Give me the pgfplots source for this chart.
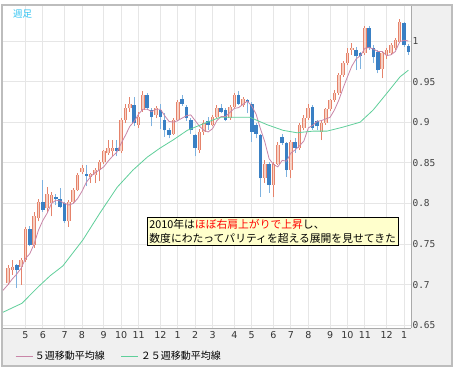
\documentclass[border=0pt]{standalone}
\usepackage{pgfplots}
\pgfplotsset{compat=1.18}
\usepackage{pgfplotstable}
\usepackage{fontspec}
\setmainfont{DejaVu Sans}
\newfontfamily\jp{Noto Sans CJK JP}
\newfontfamily\mono{DejaVu Sans Mono}
\definecolor{upline}{HTML}{E5836B}
\definecolor{upfill}{HTML}{F7D0C3}
\definecolor{dnbody}{HTML}{3A80C4}
\definecolor{dnwick}{HTML}{7EB2DF}
\definecolor{maA}{HTML}{C986A8}
\definecolor{maB}{HTML}{5FCF9A}
\definecolor{panel}{HTML}{F0F0F0}
\definecolor{framec}{HTML}{BDBDBD}
\definecolor{gridc}{HTML}{E6E6E6}
\definecolor{titlec}{HTML}{33C4F2}
\definecolor{notefill}{HTML}{FFFFCC}

\pgfplotstableread{
k o h l c
0 0.702 0.724 0.700 0.720
1 0.718 0.730 0.712 0.722
3 0.722 0.733 0.700 0.730
4 0.730 0.771 0.728 0.769
6 0.749 0.790 0.745 0.784
7 0.782 0.806 0.778 0.802
9 0.794 0.820 0.790 0.812
10 0.800 0.814 0.784 0.810
14 0.778 0.804 0.771 0.802
15 0.802 0.819 0.800 0.817
16 0.817 0.838 0.815 0.835
17 0.839 0.847 0.836 0.843
19 0.832 0.838 0.825 0.836
20 0.835 0.843 0.825 0.841
21 0.841 0.853 0.827 0.851
22 0.851 0.866 0.849 0.864
23 0.862 0.878 0.860 0.868
24 0.864 0.878 0.858 0.868
26 0.864 0.905 0.862 0.903
27 0.903 0.923 0.899 0.917
28 0.917 0.931 0.913 0.923
30 0.897 0.912 0.893 0.907
31 0.915 0.938 0.913 0.934
34 0.909 0.920 0.905 0.917
38 0.886 0.905 0.884 0.903
39 0.903 0.927 0.901 0.925
44 0.866 0.892 0.862 0.888
45 0.888 0.903 0.884 0.899
47 0.897 0.909 0.895 0.907
48 0.907 0.921 0.905 0.917
51 0.905 0.921 0.903 0.919
52 0.919 0.936 0.917 0.934
54 0.921 0.931 0.919 0.929
59 0.831 0.853 0.825 0.849
61 0.823 0.851 0.808 0.849
62 0.849 0.876 0.847 0.872
65 0.841 0.878 0.831 0.876
67 0.868 0.899 0.866 0.897
68 0.893 0.909 0.890 0.905
69 0.905 0.923 0.903 0.917
72 0.888 0.901 0.878 0.899
73 0.899 0.918 0.897 0.916
74 0.916 0.929 0.914 0.927
75 0.927 0.940 0.925 0.936
76 0.936 0.960 0.934 0.958
77 0.958 0.975 0.956 0.973
78 0.973 0.991 0.970 0.985
79 0.989 0.997 0.983 0.991
82 0.985 1.018 0.983 1.016
86 0.966 0.987 0.954 0.985
87 0.983 0.991 0.978 0.989
88 0.985 0.997 0.983 0.995
89 0.991 1.004 0.989 1.001
90 0.999 1.027 0.997 1.024
}\upcandles

\pgfplotstableread{
k o h l c
2 0.724 0.726 0.696 0.718
5 0.769 0.772 0.747 0.749
8 0.802 0.829 0.790 0.792
11 0.808 0.812 0.798 0.805
12 0.806 0.819 0.794 0.796
13 0.800 0.802 0.776 0.778
18 0.836 0.847 0.821 0.834
25 0.868 0.878 0.858 0.865
29 0.921 0.931 0.895 0.899
32 0.934 0.936 0.915 0.917
33 0.915 0.918 0.895 0.907
35 0.915 0.923 0.892 0.907
36 0.903 0.911 0.882 0.890
37 0.890 0.893 0.880 0.884
40 0.929 0.934 0.920 0.923
41 0.919 0.921 0.902 0.905
42 0.903 0.905 0.886 0.890
43 0.884 0.886 0.858 0.868
46 0.901 0.907 0.891 0.897
49 0.917 0.923 0.911 0.913
50 0.915 0.917 0.901 0.903
53 0.934 0.938 0.921 0.923
55 0.927 0.929 0.911 0.925
56 0.923 0.925 0.876 0.888
57 0.896 0.899 0.880 0.886
58 0.884 0.886 0.808 0.831
60 0.849 0.851 0.813 0.823
63 0.882 0.886 0.872 0.874
64 0.874 0.876 0.833 0.841
66 0.876 0.880 0.862 0.868
70 0.919 0.921 0.891 0.893
71 0.901 0.903 0.890 0.895
80 0.989 0.993 0.964 0.981
81 0.985 0.987 0.966 0.982
83 1.016 1.018 0.989 0.991
84 0.991 0.995 0.973 0.980
85 0.987 0.989 0.960 0.964
91 1.022 1.024 0.993 0.995
92 0.994 0.996 0.983 0.987
}\dncandles

\pgfplotsset{
  candle/.style n args={2}{forget plot, draw=none, no markers,
    error bars/.cd, y dir=plus, y explicit, error mark=none,
    error bar style={draw=#1, line width=#2, solid}},
}

\begin{document}
\begin{tikzpicture}[x=1pt,y=1pt]
\useasboundingbox (0,0) rectangle (454,371);
\fill[white] (0,0) rectangle (454,371);
\fill[panel] (2,5) rectangle (452,366);
\draw[framec, line width=1.3pt] (2,5) rectangle (452,366);
\begin{axis}[
  at={(3pt,43pt)}, anchor=south west, scale only axis,
  width=408pt, height=322pt,
  xmin=-1.15, xmax=92.6, ymin=0.6466, ymax=1.0431,
  axis background/.style={fill=white},
  axis line style={draw=none},
  major tick length=0pt,
  xtick={4,8,13,17,22,26,30,35,39,43,47,52,56,61,65,69,74,78,82,87,91},
  xticklabels={5,6,7,8,9,10,11,12,1,2,3,4,5,6,7,8,9,10,11,12,1},
  ytick={0.65,0.7,0.75,0.8,0.85,0.9,0.95,1},
  yticklabels={0.65,0.7,0.75,0.8,0.85,0.9,0.95,1},
  yticklabel pos=right,
  grid=major, major grid style={draw=gridc, line width=0.8pt},
  xticklabel style={font=\fontsize{9.5}{10}\selectfont, text=black!80},
  yticklabel style={font=\mono\fontsize{9.5}{10}\selectfont, text=black!75, xshift=-2pt},
  legend style={at={(axis description cs:0.022,-0.087)}, anchor=west,
    draw=none, fill=none, font=\jp\fontsize{10}{12}\selectfont,
    legend columns=2, /tikz/every even column/.append style={column sep=14pt}},
  legend image code/.code={\draw[#1, line width=0.8pt] (0pt,0pt) -- (17pt,0pt);},
]
% wicks
\addplot[candle={upline}{0.9pt}]
  table[x=k, y=l, y error plus expr=\thisrow{h}-\thisrow{l}] {\upcandles};
\addplot[candle={dnwick}{0.9pt}]
  table[x=k, y=l, y error plus expr=\thisrow{h}-\thisrow{l}] {\dncandles};
% bodies
\addplot[candle={upline}{3.6pt}]
  table[x=k, y=o, y error plus expr=\thisrow{c}-\thisrow{o}] {\upcandles};
\addplot[candle={upfill}{1.6pt}]
  table[x=k, y=o, y error plus expr=\thisrow{c}-\thisrow{o}] {\upcandles};
\addplot[candle={dnbody}{3.6pt}]
  table[x=k, y=c, y error plus expr=\thisrow{o}-\thisrow{c}] {\dncandles};
% moving averages
\addplot[maA, line width=0.8pt, mark=none] coordinates {
(-1.15,0.693) (0,0.700) (1,0.707) (2,0.713) (3,0.720) (4,0.732) (5,0.738) (6,0.750)
(7,0.767) (8,0.779) (9,0.788) (10,0.800) (11,0.804) (12,0.803) (13,0.800) (14,0.798)
(15,0.800) (16,0.806) (17,0.815) (18,0.826) (19,0.833) (20,0.838) (21,0.841) (22,0.845)
(23,0.852) (24,0.858) (25,0.863) (26,0.874) (27,0.884) (28,0.895) (29,0.901) (30,0.910)
(31,0.916) (32,0.916) (33,0.913) (34,0.916) (35,0.916) (36,0.908) (37,0.901) (38,0.900)
(39,0.902) (40,0.905) (41,0.908) (42,0.909) (43,0.902) (44,0.895) (45,0.890) (46,0.888)
(47,0.892) (48,0.902) (49,0.907) (50,0.907) (51,0.912) (52,0.917) (53,0.918) (54,0.922)
(55,0.926) (56,0.920) (57,0.910) (58,0.892) (59,0.876) (60,0.855) (61,0.848) (62,0.845)
(63,0.853) (64,0.852) (65,0.862) (66,0.866) (67,0.871) (68,0.877) (69,0.893) (70,0.896)
(71,0.901) (72,0.902) (73,0.904) (74,0.906) (75,0.915) (76,0.927) (77,0.942) (78,0.956)
(79,0.969) (80,0.978) (81,0.982) (82,0.991) (83,0.992) (84,0.990) (85,0.987) (86,0.987)
(87,0.982) (88,0.983) (89,0.987) (90,0.999) (91,1.001) (92,1.000)
};
\addlegendentry{５週移動平均線}
\addplot[maB, line width=0.8pt, mark=none] coordinates {
(-1.15,0.666) (3.2,0.677) (6.9,0.697) (9.7,0.711) (12.6,0.723) (17.2,0.755) (21.1,0.788)
(25.1,0.820) (28.7,0.841) (32.0,0.857) (34.9,0.868) (37.9,0.878) (41.2,0.890) (45.3,0.899)
(48.7,0.906) (51.7,0.906) (55.6,0.906) (59.5,0.897) (63.2,0.890) (66.4,0.887) (70.1,0.889)
(73.3,0.889) (77.0,0.894) (80.9,0.900) (83.9,0.915) (87.1,0.936) (90.1,0.956) (92.0,0.964)
};
\addlegendentry{２５週移動平均線}
\end{axis}
\draw[framec!90!black, line width=0.8pt] (411,43) -- (411,365);
\draw[framec!90!black, line width=0.8pt] (3,43) -- (411,43);
\node[anchor=west, text=titlec, font=\jp\fontsize{9.5}{10}\selectfont, inner sep=0pt] at (13,357) {週足};
\node[draw=black, fill=notefill, line width=0.8pt, inner sep=2pt, anchor=north west, align=left,
  font=\jp\fontsize{10.8}{13.5}\selectfont] at (147,154)
  {2010年は\textcolor{red}{ほぼ右肩上がりで上昇}し、\\数度にわたってパリティを超える展開を見せてきた};
\end{tikzpicture}
\end{document}
